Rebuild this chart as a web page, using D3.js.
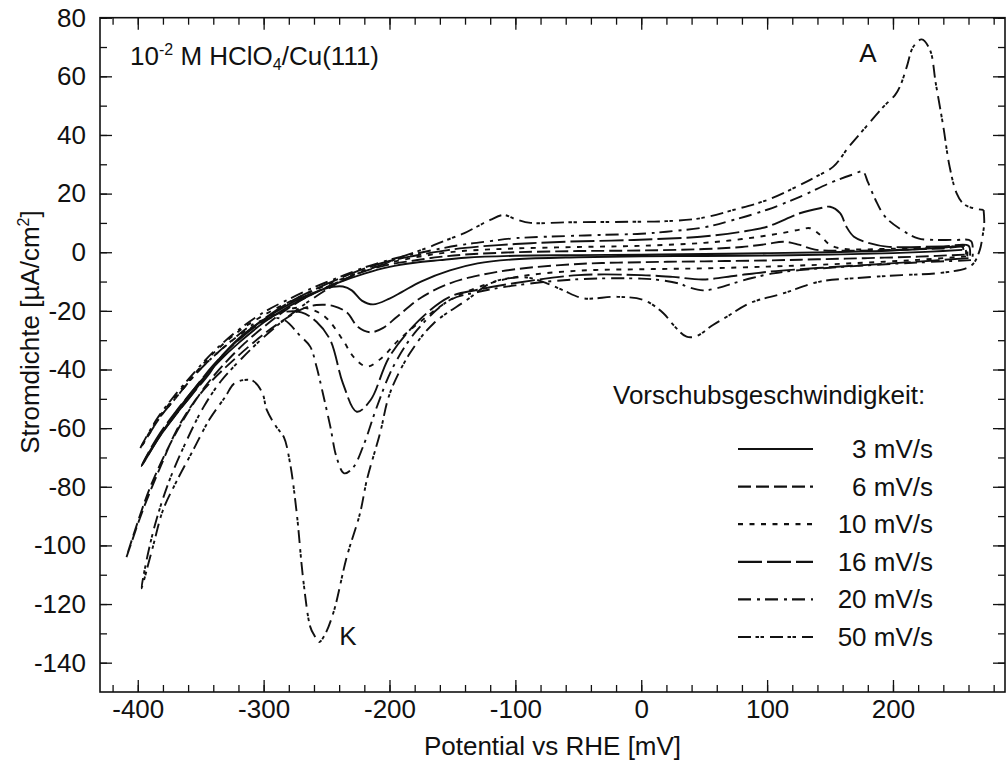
<!DOCTYPE html>
<html>
<head>
<meta charset="utf-8">
<script src="https://cdn.jsdelivr.net/npm/d3@7"></script>
<style>
  body { margin: 0; background: #fff; }
  svg { display: block; }
  text { font-family: "Liberation Sans", Arial, sans-serif; fill: #111; }
</style>
</head>
<body>
<div id="chart"></div>
<script>
// Scan rates shown in the legend
const scanRates = ["3 mV/s", "6 mV/s", "10 mV/s", "16 mV/s", "20 mV/s", "50 mV/s"];

// Cyclic voltammograms: [potential mV, current density µA/cm²], cathodic sweep then anodic sweep
const cv3 = [[255,0.8],[230,0.2],[200,-0.3],[150,-0.8],[100,-1.1],[50,-1.3],[0,-1.4],[-50,-1.7],[-100,-2.4],[-130,-3.8],[-152,-6.2],[-175,-10],[-190,-13.5],[-200,-15.8],[-213,-17.8],[-222,-16.5],[-230,-13],[-237,-11.7],[-245,-11.8],[-255,-13],[-270,-15.5],[-285,-19],[-300,-23],[-320,-29.5],[-336,-36.8],[-343,-40.5],[-356,-48],[-369,-55],[-382,-62.5],[-397,-72.9],
  [-390,-67.5],[-380,-61],[-365,-52],[-350,-44],[-335,-37],[-320,-31],[-300,-24],[-280,-18.5],[-260,-14],[-240,-10.3],[-220,-7.3],[-200,-5],[-180,-3.6],[-160,-2.7],[-140,-1.9],[-100,-1.2],[-50,-1],[0,-0.8],[50,-0.6],[100,-0.3],[150,0],[200,0.6],[240,1.6],[255,2],[256,0.8]];

const cv6 = [[257,-0.8],[220,-1.5],[180,-2],[140,-2.4],[100,-2.8],[50,-3.1],[0,-3.4],[-50,-4],[-100,-5.8],[-130,-8],[-152,-10.6],[-175,-15.5],[-194,-22],[-205,-25.8],[-215,-27.3],[-225,-25.5],[-234,-20.5],[-245,-18.3],[-258,-18],[-270,-19.5],[-282,-22.5],[-300,-28],[-324,-36.8],[-343,-44.7],[-356,-51.5],[-369,-60.6],[-382,-73.2],[-396,-88],[-409,-104],
  [-400,-92],[-390,-80],[-375,-66],[-360,-54.5],[-345,-45],[-330,-37.5],[-315,-31],[-300,-25.5],[-280,-19],[-260,-14],[-240,-10],[-220,-6.5],[-200,-4.2],[-180,-2.8],[-160,-1.6],[-140,-0.8],[-100,0],[-50,0.4],[0,0.6],[50,1.1],[80,1.8],[100,2.8],[113,3.6],[125,2.6],[138,0.9],[160,0.5],[200,0.8],[240,1.3],[257,1.6],[258,-0.8]];

const cv10 = [[258,-1.4],[220,-2.6],[180,-3.5],[140,-4.3],[100,-4.9],[50,-5.5],[0,-5.8],[-50,-6.3],[-100,-8.5],[-130,-12],[-152,-16.3],[-175,-23.5],[-194,-30.5],[-206,-36],[-218,-39],[-228,-36],[-237,-30],[-250,-22.5],[-262,-19.5],[-275,-19],[-290,-21],[-305,-24.5],[-320,-28.5],[-343,-36.8],[-356,-42.5],[-369,-49.3],[-382,-56.1],[-398,-66.9],
  [-385,-57.5],[-370,-49],[-355,-41.5],[-340,-34.5],[-320,-27],[-300,-21.5],[-280,-17],[-260,-13],[-240,-9.5],[-220,-6.2],[-200,-3.6],[-180,-1.8],[-160,-0.4],[-140,0.5],[-100,1.3],[-50,1.8],[0,2.2],[50,3.2],[80,4.5],[110,6.4],[127,7.8],[134,8.2],[141,6.3],[150,2.5],[160,1.2],[200,1.2],[240,1.6],[258,1.9],[259,-1.4]];

const cv16 = [[260,-2],[220,-3.2],[180,-4.3],[140,-5.4],[100,-6.7],[75,-8],[49,-9.3],[25,-8.4],[0,-7.8],[-50,-7.8],[-100,-10.5],[-130,-12.8],[-152,-15.2],[-176,-23],[-200,-35.6],[-215,-50.4],[-226,-54.4],[-237,-44.7],[-247,-30],[-258,-23.7],[-270,-20.5],[-285,-20.5],[-300,-23.5],[-320,-30],[-336,-36.8],[-343,-41.3],[-356,-48.1],[-369,-55],[-382,-62.4],[-397,-72.9],
  [-385,-63.5],[-370,-54.5],[-355,-46.5],[-340,-38.5],[-320,-29.8],[-300,-22.8],[-280,-17.2],[-260,-12.8],[-240,-9],[-220,-5.6],[-200,-3],[-180,-1.2],[-160,0.3],[-140,1.5],[-100,2.8],[-59,3.6],[-6,4.2],[47,5.3],[80,7],[100,8.7],[126,13.3],[142,15],[150,15.5],[158,13.3],[163,8.7],[169,5.3],[182,3],[195,1.9],[240,2],[260,2.2],[261,-2]];

const cv20 = [[262,-2.7],[230,-3.3],[206,-3.8],[160,-5],[126,-6.1],[105,-7.2],[88,-8.8],[73,-10.6],[60,-12.3],[49,-13],[38,-12],[31,-10.8],[15,-9.5],[0,-9],[-50,-9.2],[-100,-11.3],[-130,-13.6],[-152,-16.3],[-178,-26.5],[-197,-39],[-210,-52.7],[-221,-66.3],[-229,-73.5],[-236,-75.4],[-242,-70],[-247,-59.5],[-253,-48],[-258,-39],[-263,-32.2],[-271,-28.5],[-284,-23],[-295,-22.5],[-310,-25],[-325,-30],[-343,-36.8],[-356,-42.5],[-369,-49.3],[-382,-56.1],[-398,-66.9],
  [-385,-57],[-370,-48.5],[-355,-41],[-340,-34],[-320,-26.5],[-300,-20.5],[-280,-16],[-260,-12],[-240,-8.5],[-220,-5.2],[-200,-2.6],[-180,-0.6],[-160,1.2],[-140,2.7],[-120,3.8],[-100,4.8],[-60,5.5],[-33,5.9],[0,6.3],[20,7],[50,8.5],[73,11],[100,14.5],[126,18.9],[152,24],[168,26.5],[176,27.5],[180,24],[186,18],[194,12],[207,7.6],[220,4.7],[233,4.2],[250,4.2],[262,3.8],[263,-2.7]];

const cv50 = [[272,14.4],[272.5,10],[271,5],[269,0.8],[264,-3.8],[258,-5.5],[234,-7.2],[207,-7.8],[168,-8.9],[142,-10],[113,-14],[86,-17.4],[68,-22],[57,-24.8],[44,-28.6],[36,-28.8],[25.5,-24.8],[17.6,-20.8],[2,-16.3],[-19.5,-15.2],[-46,-15.7],[-62,-13],[-75,-10.6],[-91,-8.6],[-107,-9],[-120,-10.6],[-138.6,-16.3],[-165,-24.3],[-183.7,-34.4],[-199.6,-48],[-207.5,-61.7],[-218,-77.7],[-223.4,-89],[-234,-104],[-244.6,-123],[-252,-131],[-256,-133],[-260,-130.5],[-263,-127.7],[-268.5,-111.8],[-273.7,-89],[-279,-72],[-284,-63],[-290,-59.5],[-297.5,-53.8],[-301,-48],[-308,-44],[-316,-43.6],[-324,-45],[-330,-49],[-343,-57],[-356,-67.5],[-369,-78],[-380,-88],[-388,-100.5],[-397,-114.6],
  [-392,-103],[-385,-91],[-375,-78],[-362,-65],[-348,-53],[-334,-44],[-318,-36.5],[-300,-29],[-282,-22.5],[-265,-17],[-245,-11.5],[-225,-7.2],[-207.5,-4.5],[-190,-1.5],[-170,1.5],[-154.5,4.2],[-141,6.4],[-130.7,8.7],[-120,11],[-109.5,12.7],[-100,11.3],[-88,10],[-60,10.2],[-6,10.4],[20,10.6],[47,11.6],[73,14.4],[100,17.8],[126,22.9],[139,25.8],[152.6,29.2],[165,36],[178.6,42.8],[192.3,49.6],[201.6,53.6],[206,57],[211,63.3],[216,70],[222.8,72.6],[229.4,69],[234,57.6],[240,42.8],[245,29.2],[250.6,20.1],[256,16.5],[264,15],[272,14.4]];

const curves = [cv3, cv6, cv10, cv16, cv20, cv50];

// Axis ticks
const xTickValues = [-400, -300, -200, -100, 0, 100, 200];
const yTickValues = [-140, -120, -100, -80, -60, -40, -20, 0, 20, 40, 60, 80];

// Line styles per scan rate
const dashStyles = ["none", "13,5", "5,6.5", "24,5", "13,6,3,5", "13,4.5,3.5,1.5,3.5,6"];

const width = 1008, height = 765;
const margin = { top: 17.7, right: 3, bottom: 73, left: 100 };
const plotW = width - margin.left - margin.right;
const plotH = height - margin.top - margin.bottom;
const fontSize = "26px";

const svg = d3.select("#chart").append("svg")
    .attr("width", width)
    .attr("height", height);

const x = d3.scaleLinear().domain([-430, 289]).range([margin.left, margin.left + plotW]);
const y = d3.scaleLinear().domain([-150, 80]).range([margin.top + plotH, margin.top]);

const bottom = margin.top + plotH, right = margin.left + plotW;

svg.append("defs").append("clipPath").attr("id", "plot")
    .append("rect")
    .attr("x", margin.left).attr("y", margin.top)
    .attr("width", plotW).attr("height", plotH);

// Curves
const line = d3.line()
    .x(d => x(d[0]))
    .y(d => y(d[1]))
    .curve(d3.curveCatmullRom.alpha(0.5));

svg.append("g").attr("clip-path", "url(#plot)")
    .selectAll("path")
    .data(curves)
    .enter().append("path")
    .attr("d", line)
    .attr("fill", "none")
    .attr("stroke", "#111")
    .attr("stroke-width", 1.9)
    .attr("stroke-linejoin", "round")
    .attr("stroke-dasharray", (d, i) => dashStyles[i]);

// Axes with inward ticks on all four sides
const xMinor = d3.range(-420, 290, 20);
const yMinor = d3.range(-140, 81, 10);
const plain = d => String(d);

function styleAxis(g) {
    g.select(".domain").remove();
    g.selectAll(".tick line").attr("stroke", "#111").attr("stroke-width", 1.3);
    g.selectAll("text").style("font-size", fontSize).attr("fill", "#111");
}

svg.append("g").attr("transform", `translate(0,${bottom})`)
    .call(d3.axisBottom(x).tickValues(xMinor).tickSize(-7).tickFormat(""))
    .call(styleAxis);
svg.append("g").attr("transform", `translate(0,${bottom})`)
    .call(d3.axisBottom(x).tickValues(xTickValues).tickSize(-12).tickPadding(8).tickFormat(plain))
    .call(styleAxis);
svg.append("g").attr("transform", `translate(0,${margin.top})`)
    .call(d3.axisTop(x).tickValues(xMinor).tickSize(-7).tickFormat(""))
    .call(styleAxis);
svg.append("g").attr("transform", `translate(0,${margin.top})`)
    .call(d3.axisTop(x).tickValues(xTickValues).tickSize(-12).tickFormat(""))
    .call(styleAxis);

svg.append("g").attr("transform", `translate(${margin.left},0)`)
    .call(d3.axisLeft(y).tickValues(yMinor).tickSize(-7).tickFormat(""))
    .call(styleAxis);
svg.append("g").attr("transform", `translate(${margin.left},0)`)
    .call(d3.axisLeft(y).tickValues(yTickValues).tickSize(-12).tickPadding(14).tickFormat(plain))
    .call(styleAxis);
svg.append("g").attr("transform", `translate(${right},0)`)
    .call(d3.axisRight(y).tickValues(yMinor).tickSize(-7).tickFormat(""))
    .call(styleAxis);
svg.append("g").attr("transform", `translate(${right},0)`)
    .call(d3.axisRight(y).tickValues(yTickValues).tickSize(-12).tickFormat(""))
    .call(styleAxis);

// Frame
svg.append("rect")
    .attr("x", margin.left).attr("y", margin.top)
    .attr("width", plotW).attr("height", plotH)
    .attr("fill", "none").attr("stroke", "#111").attr("stroke-width", 1.6);

// Axis titles
svg.append("text")
    .attr("x", (margin.left + right) / 2)
    .attr("y", 755)
    .attr("text-anchor", "middle")
    .style("font-size", fontSize)
    .text("Potential vs RHE [mV]");

const yTitle = svg.append("text")
    .attr("transform", "translate(39,332) rotate(-90)")
    .attr("text-anchor", "middle")
    .style("font-size", fontSize);
yTitle.append("tspan").text("Stromdichte [µA/cm");
yTitle.append("tspan").attr("dy", -10).style("font-size", "16px").text("2");
yTitle.append("tspan").attr("dy", 10).text("]");

// Title inside the plot
const title = svg.append("text")
    .attr("x", 130).attr("y", 65)
    .style("font-size", fontSize);
title.append("tspan").text("10");
title.append("tspan").attr("dy", -10).style("font-size", "16px").text("-2");
title.append("tspan").attr("dy", 10).text(" M HClO");
title.append("tspan").attr("dy", 5).style("font-size", "16px").text("4");
title.append("tspan").attr("dy", -5).text("/Cu(111)");

// Peak labels
svg.append("text").attr("x", x(180)).attr("y", 62).attr("text-anchor", "middle")
    .style("font-size", fontSize).text("A");
svg.append("text").attr("x", x(-233)).attr("y", 645).attr("text-anchor", "middle")
    .style("font-size", fontSize).text("K");

// Legend
svg.append("text").attr("x", 613).attr("y", 404)
    .style("font-size", fontSize).text("Vorschubsgeschwindigkeit:");

const legend = svg.append("g").selectAll("g")
    .data(scanRates)
    .enter().append("g")
    .attr("transform", (d, i) => `translate(0,${449 + i * 37.6})`);

legend.append("line")
    .attr("x1", 738).attr("x2", 813)
    .attr("stroke", "#111").attr("stroke-width", 2.2)
    .attr("stroke-dasharray", (d, i) => dashStyles[i]);

legend.append("text")
    .attr("x", 933).attr("y", 9)
    .attr("text-anchor", "end")
    .style("font-size", fontSize)
    .text(d => d);
</script>
</body>
</html>
